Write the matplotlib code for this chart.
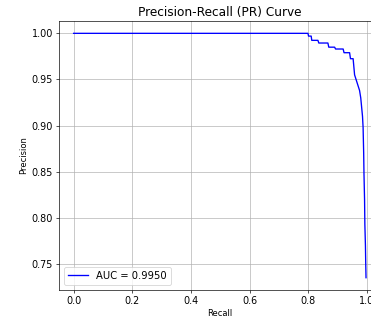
import matplotlib
matplotlib.use("Agg")
import matplotlib.pyplot as plt
import numpy as np

# PR curve points (recall, precision)
recall = [0.0, 0.799, 0.801, 0.810, 0.812, 0.833, 0.836, 0.867, 0.870, 0.890,
          0.893, 0.919, 0.922, 0.941, 0.944, 0.953, 0.958, 0.964, 0.970, 0.975,
          0.979, 0.982, 0.985, 0.987, 0.989, 0.990, 0.992, 0.993, 0.995, 0.996, 0.997]
precision = [1.0, 1.0, 0.997, 0.997, 0.9924, 0.9924, 0.9895, 0.9895, 0.985, 0.985,
             0.983, 0.983, 0.979, 0.979, 0.9725, 0.9725, 0.955, 0.949, 0.943, 0.938,
             0.930, 0.920, 0.910, 0.898, 0.870, 0.848, 0.820, 0.793, 0.770, 0.750, 0.735]
auc_value = 0.9950

fig = plt.figure(figsize=(371 / 60, 320 / 60), dpi=60)
# the original image is cut off on the right, so the axes run past the edge
ax = fig.add_axes([0.159, 0.094, 0.867, 0.84])
ax.plot(recall, precision, color='blue', lw=1.6, label='AUC = %.4f' % auc_value)
ax.set_title('Precision-Recall (PR) Curve', fontsize=14.5)
ax.set_xlabel('Recall', fontsize=10)
ax.set_ylabel('Precision', fontsize=10)
ax.tick_params(labelsize=11.5)
ax.set_yticks([0.75, 0.80, 0.85, 0.90, 0.95, 1.00])
ax.set_xticks([0.0, 0.2, 0.4, 0.6, 0.8, 1.0])
ax.grid(True)
ax.legend(loc='lower left', fontsize=12)

fig.savefig('out.png', dpi=60)
